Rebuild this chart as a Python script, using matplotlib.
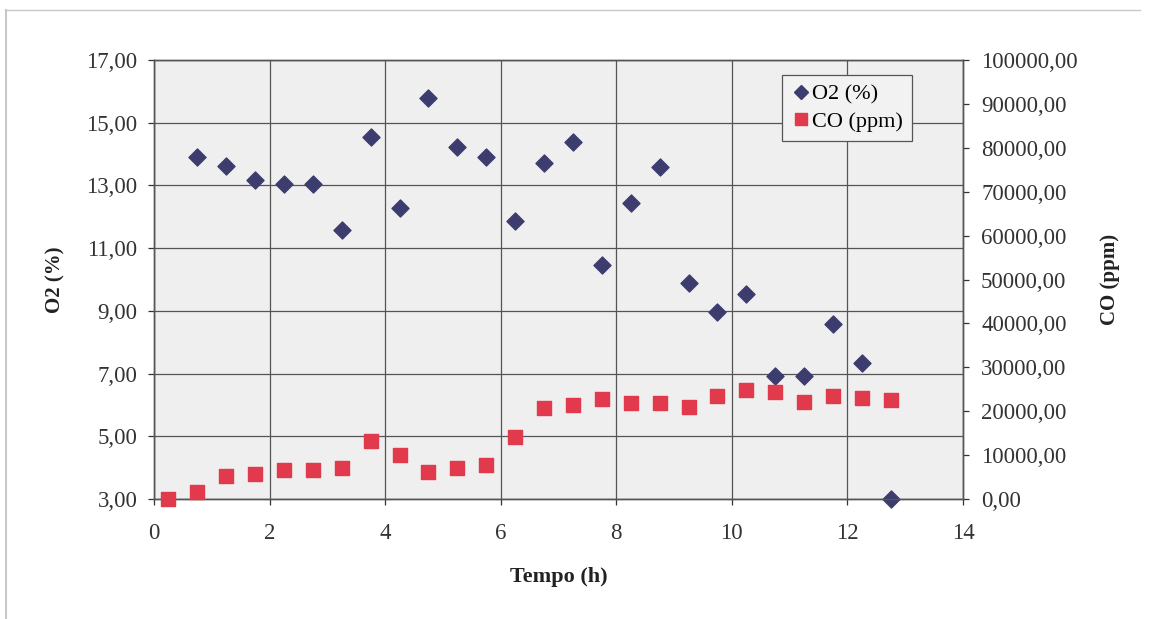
import matplotlib
matplotlib.use("Agg")
import matplotlib.pyplot as plt
from matplotlib.ticker import FuncFormatter, FixedLocator, MultipleLocator
from matplotlib.lines import Line2D

# Sampling times (h)
tempo_co = [0.25, 0.75, 1.25, 1.75, 2.25, 2.75, 3.25, 3.75, 4.25, 4.75, 5.25, 5.75, 6.25,
            6.75, 7.25, 7.75, 8.25, 8.75, 9.25, 9.75, 10.25, 10.75, 11.25, 11.75, 12.25, 12.75]
tempo_o2 = tempo_co[1:]

# Oxygen concentration (%)
o2 = [13.90, 13.63, 13.18, 13.06, 13.06, 11.59, 14.56, 12.28, 15.80, 14.24, 13.91, 11.85,
      13.72, 14.39, 10.47, 12.44, 13.60, 9.88, 8.97, 9.55, 6.92, 6.92, 8.58, 7.34, 3.00]

# Carbon monoxide concentration (ppm)
co = [0, 1500, 5150, 5760, 6510, 6510, 6970, 13270, 9930, 6150, 6970, 7650, 14110,
      20710, 21470, 22830, 21920, 21850, 21010, 23360, 24720, 24360, 21990, 23360, 22990, 22450]

o2_ticks = [3, 5, 7, 9, 11, 13, 15, 17]
co_ticks = [0, 10000, 20000, 30000, 40000, 50000, 60000, 70000, 80000, 90000, 100000]

SERIF = ["Liberation Serif", "DejaVu Serif"]
plt.rcParams["font.family"] = SERIF

fig = plt.figure(figsize=(11.49, 6.19), dpi=100)
fig.patch.set_facecolor("white")

# thin outer chart border (left and top)
fig.add_artist(Line2D([6 / 1149, 6 / 1149], [0, 1 - 10 / 619], color="#c8c8c8", lw=1.5))
fig.add_artist(Line2D([6 / 1149, 1140 / 1149], [1 - 10 / 619, 1 - 10 / 619], color="#c8c8c8", lw=1.0))

ax = fig.add_axes([154 / 1149, 1 - 499 / 619, (963 - 154) / 1149, (499 - 60) / 619])
ax.set_facecolor("#efefef")
ax2 = ax.twinx()

ax.set_xlim(0, 14)
ax.set_ylim(o2_ticks[0], o2_ticks[-1])
ax2.set_ylim(co_ticks[0], co_ticks[-1])

ax.xaxis.set_major_locator(MultipleLocator(2))
ax.yaxis.set_major_locator(FixedLocator(o2_ticks))
ax2.yaxis.set_major_locator(FixedLocator(co_ticks))

comma = FuncFormatter(lambda v, p: f"{v:.2f}".replace(".", ","))
ax.yaxis.set_major_formatter(comma)
ax2.yaxis.set_major_formatter(comma)
ax.xaxis.set_major_formatter(FuncFormatter(lambda v, p: f"{v:.0f}"))

ax.grid(True, color="#555555", lw=0.9)
ax.set_axisbelow(True)

for a in (ax, ax2):
    for s in a.spines.values():
        s.set_color("#555555")
        s.set_linewidth(1.0)
    a.tick_params(colors="#333333", labelsize=16.5, length=4, width=0.9, direction="out")
ax.tick_params(axis="x", pad=13)
ax.tick_params(axis="y", pad=8)
ax2.tick_params(axis="y", pad=9)

ax.scatter(tempo_o2, o2, marker="D", s=75, color="#3c3c6e", zorder=3, clip_on=False,
           label="O2 (%)")
ax2.scatter(tempo_co, co, marker="s", s=100, color="#e03a4c", zorder=3, clip_on=False,
            label="CO (ppm)")

ax.set_xlabel("Tempo (h)", fontsize=16, fontweight="bold", labelpad=17, color="#222222")
ax.set_ylabel("O2 (%)", fontsize=15, fontweight="bold", labelpad=15, color="#222222")
ax2.set_ylabel("CO (ppm)", fontsize=15, fontweight="bold", labelpad=16, color="#222222")

handles = [
    Line2D([], [], marker="D", linestyle="none", color="#3c3c6e", markersize=7),
    Line2D([], [], marker="s", linestyle="none", color="#e03a4c", markersize=9),
]
leg = ax2.legend(handles, ["O2 (%)", "CO (ppm)"], loc="upper left",
                 bbox_to_anchor=((782 - 154) / 809, (499 - 75) / 439), fontsize=16,
                 frameon=True, fancybox=False, edgecolor="#555555", facecolor="#f2f2f2",
                 framealpha=1, borderpad=0.4, handletextpad=0.05, handlelength=0.9,
                 labelspacing=0.3, borderaxespad=0)
leg.get_frame().set_linewidth(0.9)
ax2.set_zorder(ax.get_zorder() + 1)

fig.savefig("out.png", dpi=100, facecolor="white")
